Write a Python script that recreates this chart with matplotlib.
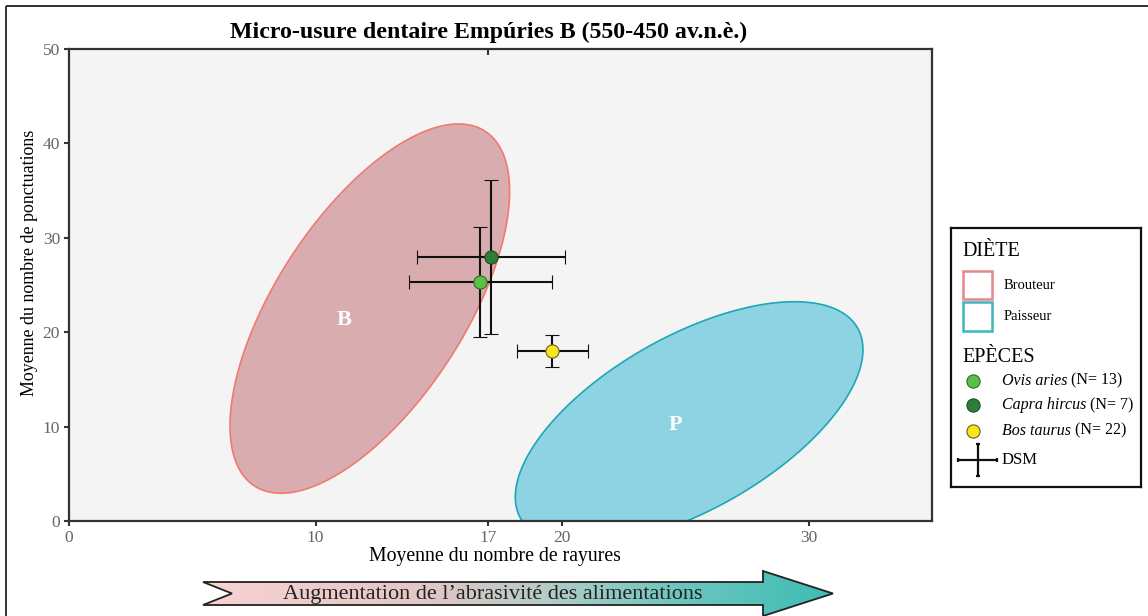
import matplotlib.pyplot as plt
import numpy as np
from matplotlib.patches import Polygon, Rectangle
from matplotlib.colors import LinearSegmentedColormap

plt.rcParams['font.family'] = ['Liberation Serif', 'DejaVu Serif']

# --- données ---
x_ticks = [0, 10, 17, 20, 30]
y_ticks = [0, 10, 20, 30, 40, 50]

# zones de diète (ellipses) : centre, demi-étendues, corrélation
zone_letters = ['B', 'P']
zone_names = ['Brouteur', 'Paisseur']
zone_cx = [12.2, 25.15]
zone_cy = [22.5, 10.35]
zone_sx = [5.67, 7.05]
zone_sy = [19.56, 12.88]
zone_rho = [0.635, 0.606]
zone_lab_x = [11.15, 24.6]
zone_lab_y = [21.3, 10.2]
zone_face = ['#D9ADB0', '#8DD3E4']
zone_edge = ['#F07A70', '#1EA7B5']
zone_leg_edge = ['#E8868A', '#3DB6BD']

# espèces : moyennes et DSM
species = ['Ovis aries', 'Capra hircus', 'Bos taurus']
n_species = [13, 7, 22]
mean_x = [16.67, 17.13, 19.6]
mean_y = [25.3, 27.95, 18.0]
sd_x = [2.9, 3.0, 1.45]
sd_y = [5.8, 8.15, 1.7]
sp_face = ['#5BC146', '#2F7D3A', '#F7E51D']
sp_edge = ['#2E6B2A', '#1B4D22', '#6B6020']

W, H = 1148, 616
fig = plt.figure(figsize=(W / 100, H / 100), dpi=100)

# calque de fond en pixels (cadre + flèche)
over = fig.add_axes([0, 0, 1, 1], zorder=0)
over.set_xlim(0, W)
over.set_ylim(H, 0)
over.axis('off')
over.add_patch(Rectangle((6, 6), W + 20, H + 20, fill=False, lw=1.3, ec='#222'))

arrow_pts = [(203, 582), (763, 582), (763, 571), (833, 593.5), (763, 616),
             (763, 605), (203, 605), (232, 593.5)]
arrow = Polygon(arrow_pts, closed=True, fc='none', ec='#222', lw=1.3, zorder=3)
over.add_patch(arrow)
cmap = LinearSegmentedColormap.from_list(
    'abr', [(0, '#FAD2D2'), (0.35, '#E3C6C6'), (0.55, '#B3CCC7'),
            (0.75, '#6EC6BE'), (1, '#3DBDB4')])
grad = over.imshow(np.linspace(0, 1, 256)[None, :], cmap=cmap, aspect='auto',
                   extent=(203, 833, 616, 571), zorder=2)
clip = Polygon(arrow_pts, closed=True, transform=over.transData)
grad.set_clip_path(clip)
over.set_xlim(0, W)
over.set_ylim(H, 0)
over.text(493, 594, 'Augmentation de l\u2019abrasivit\u00e9 des alimentations',
          ha='center', va='center', fontsize=16, color='#222', zorder=4)

# --- graphique principal ---
ax = fig.add_axes([69 / W, 95 / H, 863 / W, 472 / H], zorder=2)
ax.set_facecolor('#F4F4F4')

t = np.linspace(0, 2 * np.pi, 400)
for i in range(len(zone_letters)):
    phi = np.arccos(zone_rho[i])
    ex = zone_cx[i] + zone_sx[i] * np.cos(t)
    ey = zone_cy[i] + zone_sy[i] * np.cos(t - phi)
    ax.fill(ex, ey, fc=zone_face[i], ec=zone_edge[i], lw=1.2, zorder=1)
    ax.text(zone_lab_x[i], zone_lab_y[i], zone_letters[i], color='white',
            fontsize=16, fontweight='bold', ha='center', va='center', zorder=2)

for i in range(len(species)):
    ax.errorbar(mean_x[i], mean_y[i], xerr=sd_x[i], yerr=sd_y[i], fmt='o',
                color='#111', ecolor='#111', elinewidth=1.5, capsize=4.8,
                capthick=1.6, mfc=sp_face[i], mec=sp_edge[i], mew=0.8,
                ms=9.5, zorder=3)

ax.set_xlim(0, 35)
ax.set_ylim(0, 50)
ax.set_xticks(x_ticks)
ax.set_yticks(y_ticks)
ax.tick_params(direction='out', length=3.5, width=1.5, color='#333',
               labelcolor='#666', labelsize=12.5, pad=3)
for s in ax.spines.values():
    s.set_linewidth(1.6)
    s.set_color('#333')

sec = ax.secondary_xaxis('top')
sec.set_xticks([17])
sec.tick_params(direction='in', length=4, width=1.5, color='#333', labeltop=False)
sec.spines['top'].set_visible(False)

fig.text(489 / W, 1 - 32 / H, 'Micro-usure dentaire Emp\u00faries B (550-450 av.n.\u00e8.)',
         ha='center', va='center', fontsize=17.2, fontweight='bold')
fig.text(495 / W, 1 - 557 / H, 'Moyenne du nombre de rayures',
         ha='center', va='center', fontsize=14.2)
fig.text(30 / W, 1 - 263 / H, 'Moyenne du nombre de ponctuations',
         ha='center', va='center', fontsize=12.9, rotation=90)

# --- légende ---
lax = fig.add_axes([951 / W, (H - 487) / H, 190 / W, 259 / H], zorder=3)
lax.set_xlim(0, 190)
lax.set_ylim(259, 0)
lax.set_xticks([])
lax.set_yticks([])
for s in lax.spines.values():
    s.set_linewidth(1.6)
    s.set_color('#111')

lax.text(11.7, 24, 'DI\u00c8TE', fontsize=14.5, va='center', ha='left')
sq_y = [42.7, 74]
for i in range(len(zone_names)):
    lax.add_patch(Rectangle((11.7, sq_y[i]), 29, 28.6, fc='white',
                            ec=zone_leg_edge[i], lw=1.8))
    lax.text(52.3, sq_y[i] + 15, zone_names[i], fontsize=10.5, va='center')

lax.text(11.7, 129, 'EP\u00c8CES', fontsize=14.5, va='center', ha='left')
row_y = [152.7, 177, 202.7]
for i in range(len(species)):
    lax.plot(22.3, row_y[i], 'o', ms=9.5, mfc=sp_face[i], mec=sp_edge[i], mew=0.8)
    tx = lax.text(50.7, row_y[i], species[i], fontsize=11.5, style='italic',
                  va='center')
    lax.annotate(' (N= %d)' % n_species[i], xy=(1, 0.5), xycoords=tx,
                 fontsize=11.5, va='center', ha='left')

lax.errorbar(26.8, 232, xerr=19.4, yerr=16.4, fmt='none', ecolor='#111',
             elinewidth=1.6, capsize=1.5, capthick=1.6)
lax.text(51, 232, 'DSM', fontsize=12, va='center')

fig.savefig('out.png', dpi=100)
